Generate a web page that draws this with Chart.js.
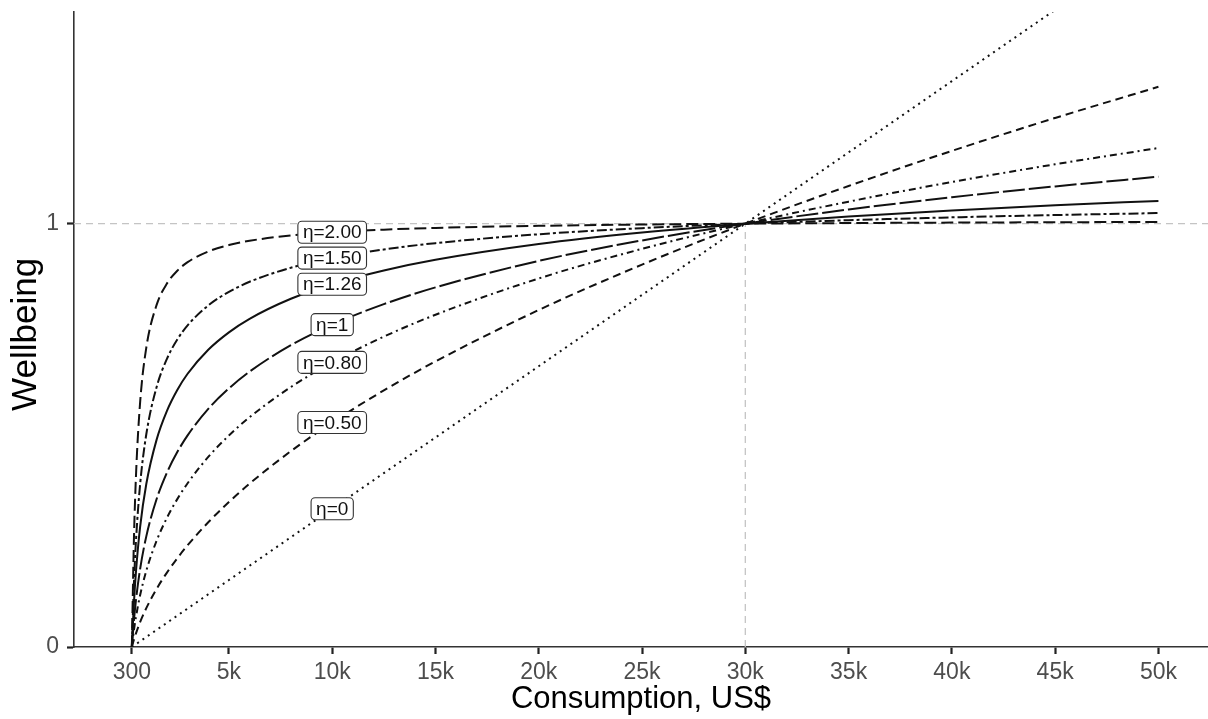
<!DOCTYPE html>
<html>
<head>
<meta charset="utf-8">
<script src="https://cdn.jsdelivr.net/npm/chart.js@4"></script>
<style>
    html, body { margin: 0; padding: 0; background: #fff; }
    #wrap { width: 1208px; height: 719px; }
</style>
</head>
<body>
<div id="wrap"><canvas id="utilityChart" width="1208" height="719"></canvas></div>
<script>
// consumption grid (US$) shared by every curve
const consumption = [300, 400, 500, 700, 1000, 1500, 2000, 2500, 3000, 4000, 5000, 6000, 8000,
    10000, 12500, 15000, 20000, 25000, 30000, 35000, 40000, 45000, 50000];

// wellbeing, one list per elasticity
const eta0 = [0, 0.0034, 0.0067, 0.0135, 0.0236, 0.0404, 0.0572, 0.0741, 0.0909, 0.1246, 0.1582, 0.1919, 0.2593,
    0.3266, 0.4108, 0.4949, 0.6633, 0.8316, 1, 1.1684, 1.3367, 1.5051, 1.6734];
const eta050 = [0, 0.0172, 0.0323, 0.0586, 0.0917, 0.1373, 0.1758, 0.2096, 0.2403, 0.2946, 0.3425, 0.3858, 0.4627,
    0.5304, 0.6061, 0.6746, 0.7961, 0.9032, 1, 1.0890, 1.1719, 1.2497, 1.3233];
const eta080 = [0, 0.0392, 0.0711, 0.1221, 0.1801, 0.2512, 0.3052, 0.3493, 0.3869, 0.4489, 0.4996, 0.5427, 0.6141,
    0.6723, 0.7331, 0.7849, 0.8706, 0.9405, 1, 1.0520, 1.0984, 1.1403, 1.1787];
const eta100 = [0, 0.0625, 0.1109, 0.1840, 0.2614, 0.3495, 0.4120, 0.4604, 0.5, 0.5625, 0.6109, 0.6505, 0.7130,
    0.7614, 0.8099, 0.8495, 0.9120, 0.9604, 1, 1.0335, 1.0625, 1.0880, 1.1109];
const eta126 = [0, 0.1032, 0.1782, 0.2833, 0.3851, 0.4899, 0.5578, 0.6071, 0.6454, 0.7021, 0.7433, 0.7752, 0.8226,
    0.8570, 0.8894, 0.9146, 0.9519, 0.9790, 1, 1.0170, 1.0312, 1.0433, 1.0538];
const eta150 = [0, 0.1489, 0.2505, 0.3837, 0.5025, 0.6142, 0.6808, 0.7262, 0.7598, 0.8068, 0.8389, 0.8627, 0.8959,
    0.9187, 0.9390, 0.9540, 0.9750, 0.9894, 1, 1.0082, 1.0149, 1.0204, 1.0250];
const eta200 = [0, 0.2525, 0.4040, 0.5772, 0.7071, 0.8081, 0.8586, 0.8889, 0.9091, 0.9343, 0.9495, 0.9596, 0.9722,
    0.9798, 0.9859, 0.9899, 0.9949, 0.9980, 1, 1.0014, 1.0025, 1.0034, 1.0040];

const curveLabels = ["η=0", "η=0.50", "η=0.80", "η=1", "η=1.26", "η=1.50", "η=2.00"];
const labelAt = 10000; // labels sit on the curves at this consumption

const xTickValues = [300, 5000, 10000, 15000, 20000, 25000, 30000, 35000, 40000, 45000, 50000];
const xTickLabels = ["300", "5k", "10k", "15k", "20k", "25k", "30k", "35k", "40k", "45k", "50k"];
const yTickValues = [0, 1];
const yTickLabels = ["0", "1"];

const reference = { x: 30000, y: 1 };

const FONT = "'Liberation Sans', Arial, sans-serif";

function series(values) {
    return consumption.map((c, i) => ({ x: c, y: values[i] }));
}

const curves = [
    { values: eta0, dash: [2, 4.5] },
    { values: eta050, dash: [8, 5] },
    { values: eta080, dash: [7, 4, 2, 4] },
    { values: eta100, dash: [22, 4] },
    { values: eta126, dash: [] },
    { values: eta150, dash: [10, 3, 3, 3] },
    { values: eta200, dash: [12, 5] },
];

// dashed grey guides at wellbeing 1 and consumption 30k
const guideLines = {
    id: "guideLines",
    beforeDatasetsDraw(chart) {
        const { ctx, chartArea, scales } = chart;
        const px = scales.x.getPixelForValue(reference.x);
        const py = scales.y.getPixelForValue(reference.y);
        ctx.save();
        ctx.strokeStyle = "#c4c4c4";
        ctx.lineWidth = 1.3;
        ctx.setLineDash([7, 5]);
        ctx.beginPath();
        ctx.moveTo(chartArea.left, py);
        ctx.lineTo(chartArea.right, py);
        ctx.moveTo(px, chartArea.bottom);
        ctx.lineTo(px, py);
        ctx.stroke();
        ctx.restore();
    },
};

// boxed curve labels, like geom_label
const curveTags = {
    id: "curveTags",
    afterDatasetsDraw(chart) {
        const { ctx } = chart;
        const idx = consumption.indexOf(labelAt);
        ctx.save();
        ctx.font = "19px " + FONT;
        ctx.textAlign = "center";
        ctx.textBaseline = "middle";
        ctx.setLineDash([]);
        chart.data.datasets.forEach((ds, i) => {
            const pt = chart.getDatasetMeta(i).data[idx];
            const text = curveLabels[i];
            const w = ctx.measureText(text).width + 10;
            const h = 22;
            ctx.beginPath();
            ctx.roundRect(pt.x - w / 2, pt.y - h / 2, w, h, 4);
            ctx.fillStyle = "#fff";
            ctx.fill();
            ctx.strokeStyle = "#333";
            ctx.lineWidth = 1.1;
            ctx.stroke();
            ctx.fillStyle = "#111";
            ctx.fillText(text, pt.x, pt.y + 1);
        });
        ctx.restore();
    },
};

const ctx = document.getElementById("utilityChart").getContext("2d");
new Chart(ctx, {
    type: "line",
    data: {
        datasets: curves.map((c, i) => ({
            label: curveLabels[i],
            data: series(c.values),
            borderColor: "#111",
            borderWidth: 2,
            borderDash: c.dash,
            pointRadius: 0,
            fill: false,
            cubicInterpolationMode: "monotone",
        })),
    },
    options: {
        responsive: false,
        animation: false,
        layout: { padding: { top: 12, right: 0, bottom: 0, left: 0 } },
        plugins: {
            legend: { display: false },
            tooltip: { enabled: false },
        },
        scales: {
            x: {
                type: "linear",
                min: -2500,
                max: 52400,
                afterBuildTicks(scale) {
                    scale.ticks = xTickValues.map((v) => ({ value: v }));
                },
                afterFit(scale) {
                    scale.height = 72;
                    scale.paddingLeft = 0;
                    scale.paddingRight = 0;
                },
                ticks: {
                    autoSkip: false,
                    maxRotation: 0,
                    padding: 5,
                    color: "#4d4d4d",
                    font: { family: FONT, size: 23 },
                    callback: (value) => xTickLabels[xTickValues.indexOf(value)],
                },
                grid: {
                    drawOnChartArea: false,
                    tickLength: 7,
                    tickWidth: 2.2,
                    tickColor: "#222",
                },
                border: { color: "#333", width: 1.6 },
                title: {
                    display: true,
                    text: "Consumption, US$",
                    color: "#000",
                    font: { family: FONT, size: 31 },
                    padding: { top: 0, bottom: 1 },
                },
            },
            y: {
                type: "linear",
                min: 0,
                max: 1.5,
                afterBuildTicks(scale) {
                    scale.ticks = yTickValues.map((v) => ({ value: v }));
                },
                afterFit(scale) {
                    scale.width = 74;
                    scale.paddingTop = 0;
                    scale.paddingBottom = 0;
                },
                ticks: {
                    padding: 8,
                    color: "#4d4d4d",
                    font: { family: FONT, size: 23 },
                    callback: (value) => yTickLabels[yTickValues.indexOf(value)],
                },
                grid: {
                    drawOnChartArea: false,
                    tickLength: 7,
                    tickWidth: 2.2,
                    tickColor: "#222",
                },
                border: { color: "#333", width: 1.6 },
                title: {
                    display: true,
                    text: "Wellbeing\u00a0",
                    color: "#000",
                    font: { family: FONT, size: 35 },
                    padding: { top: 5, bottom: 0 },
                },
            },
        },
    },
    plugins: [guideLines, curveTags],
});
</script>
</body>
</html>
